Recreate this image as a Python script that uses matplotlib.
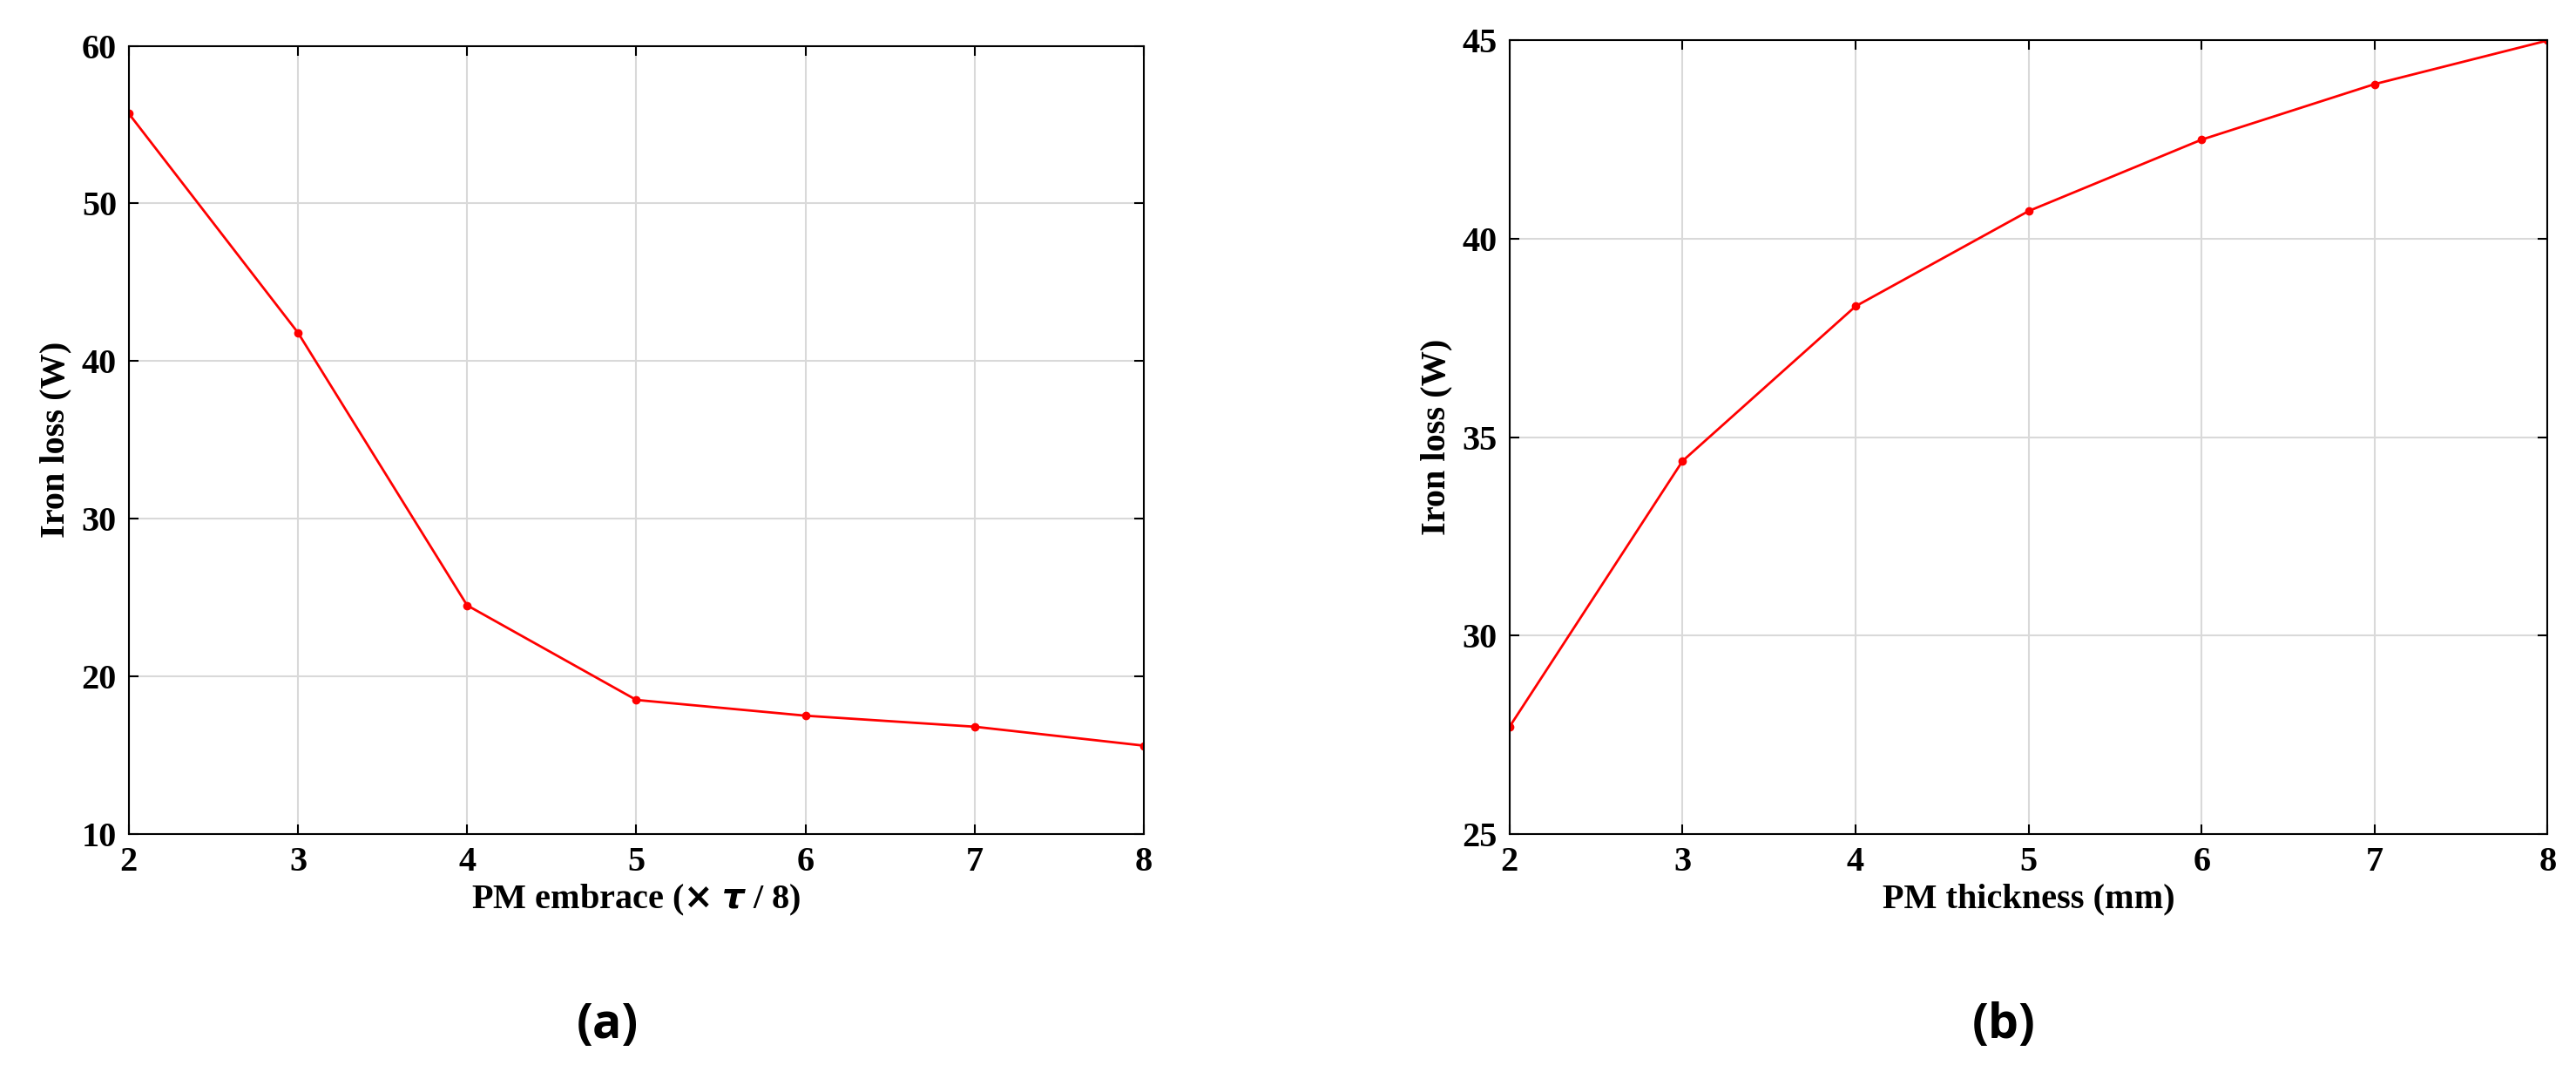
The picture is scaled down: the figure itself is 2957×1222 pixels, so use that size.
import matplotlib
matplotlib.use("Agg")
import matplotlib.pyplot as plt

x_vals = [2, 3, 4, 5, 6, 7, 8]
loss_embrace = [55.7, 41.8, 24.5, 18.5, 17.5, 16.8, 15.6]
loss_thickness = [27.7, 34.4, 38.3, 40.7, 42.5, 43.9, 45.0]

plt.rcParams['font.family'] = ['Liberation Serif', 'DejaVu Serif']
plt.rcParams['font.weight'] = 'bold'

fig = plt.figure(figsize=(29.57, 12.22), dpi=100)
ax1 = fig.add_axes([0.050, 0.217, 0.394, 0.740])
ax2 = fig.add_axes([0.586, 0.217, 0.403, 0.745])

def style(ax, y, ylim, yticks, xlabel):
    ax.plot(x_vals, y, color='red', lw=2, marker='o', ms=6)
    ax.set_xlim(2, 8)
    ax.set_ylim(*ylim)
    ax.set_xticks(x_vals)
    ax.set_yticks(yticks)
    ax.grid(True, color='#d9d9d9', lw=1.5)
    ax.tick_params(labelsize=29, direction='in', length=8, width=1.5, top=True, right=True, pad=10)
    for lab in ax.get_xticklabels() + ax.get_yticklabels():
        lab.set_fontweight('bold')
    for s in ax.spines.values():
        s.set_linewidth(1.5)
    ax.set_xlabel(xlabel, fontsize=29, fontweight='bold', labelpad=4)
    ax.set_ylabel('Iron loss (W)', fontsize=29, fontweight='bold', labelpad=8)

style(ax1, loss_embrace, (10, 60), range(10, 61, 10), r'PM embrace ($\times$ $\tau$ / 8)')
style(ax2, loss_thickness, (25, 45), range(25, 46, 5), 'PM thickness (mm)')

fig.text(0.236, 0.037, '(a)', fontsize=40, family='Open Sans', ha='center', va='center')
fig.text(0.778, 0.037, '(b)', fontsize=40, family='Open Sans', ha='center', va='center')

fig.savefig('out.png', dpi=100)
